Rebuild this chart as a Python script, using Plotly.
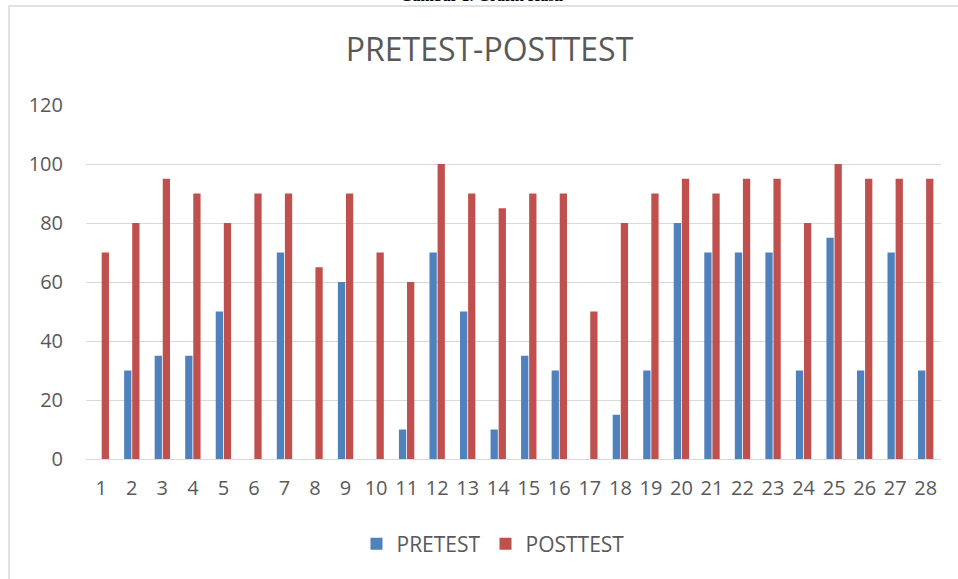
import plotly.graph_objects as go

categories = [str(i) for i in range(1, 29)]
pretest = [0, 30, 35, 35, 50, 0, 70, 0, 60, 0, 10, 70, 50, 10, 35, 30, 0, 15, 30, 80, 70, 70, 70, 30, 75, 30, 70, 30]
posttest = [70, 80, 95, 90, 80, 90, 90, 65, 90, 70, 60, 100, 90, 85, 90, 90, 50, 80, 90, 95, 90, 95, 95, 80, 100, 95, 95, 95]
y_ticks = [0, 20, 40, 60, 80, 100, 120]

W, H = 958, 579
L, R, T, B = 86, 17, 105, 120
pw, ph = W - L - R, H - T - B

def px_x(x):
    return (x - L) / pw

def px_y(y):
    return (H - B - y) / ph

fig = go.Figure()
fig.add_trace(go.Bar(x=categories, y=pretest, name="PRETEST",
                     marker=dict(color="#4F81BD", line=dict(width=0))))
fig.add_trace(go.Bar(x=categories, y=posttest, name="POSTTEST",
                     marker=dict(color="#C0504D", line=dict(width=0))))

font_c = "Open Sans, Lato, sans-serif"
fig.update_layout(
    width=W, height=H,
    margin=dict(l=L, r=R, t=T, b=B, pad=0),
    paper_bgcolor="white", plot_bgcolor="white",
    barmode="group", bargap=0.47, bargroupgap=0.1,
    title=dict(text="PRETEST-POSTTEST", xref="container", x=489.5 / W, xanchor="center",
               y=1 - 50 / H, yanchor="middle",
               font=dict(family=font_c, size=32, color="#595959")),
    xaxis=dict(type="category", showgrid=False, showline=False, ticks="",
               tickfont=dict(family=font_c, size=20, color="#595959"),
               ticklabelstandoff=15),
    yaxis=dict(range=[0, 120], tickvals=y_ticks, showgrid=True, gridcolor="#D9D9D9",
               gridwidth=1, zeroline=True, zerolinecolor="#D9D9D9", zerolinewidth=1,
               showline=False, ticks="",
               tickfont=dict(family=font_c, size=20, color="#595959"),
               ticklabelstandoff=22),
    legend=dict(orientation="h", x=px_x(493), xanchor="center", y=px_y(544), yanchor="middle",
                font=dict(family=font_c, size=21, color="#595959"),
                itemwidth=30, tracegroupgap=0),
    showlegend=True,
)

# chart frame (light gray border, cut by the page on the right and bottom)
fig.add_shape(type="rect", xref="paper", yref="paper",
              x0=px_x(9), x1=px_x(1100), y0=px_y(700), y1=px_y(6),
              line=dict(color="#D9D9D9", width=1.5), fillcolor="rgba(0,0,0,0)", layer="below")

# caption above the frame, cut by the page top as in the source
fig.add_annotation(text="<b>Gambar 1. Grafik Hasil</b>", xref="paper", yref="paper",
                   x=px_x(482), y=px_y(6), xanchor="center", yanchor="bottom",
                   showarrow=False, font=dict(family="Liberation Serif", size=16, color="#000000"))

fig.write_html("out.html", config={"displayModeBar": False},
               post_script="document.body.style.margin='0';document.body.style.padding='0';")
